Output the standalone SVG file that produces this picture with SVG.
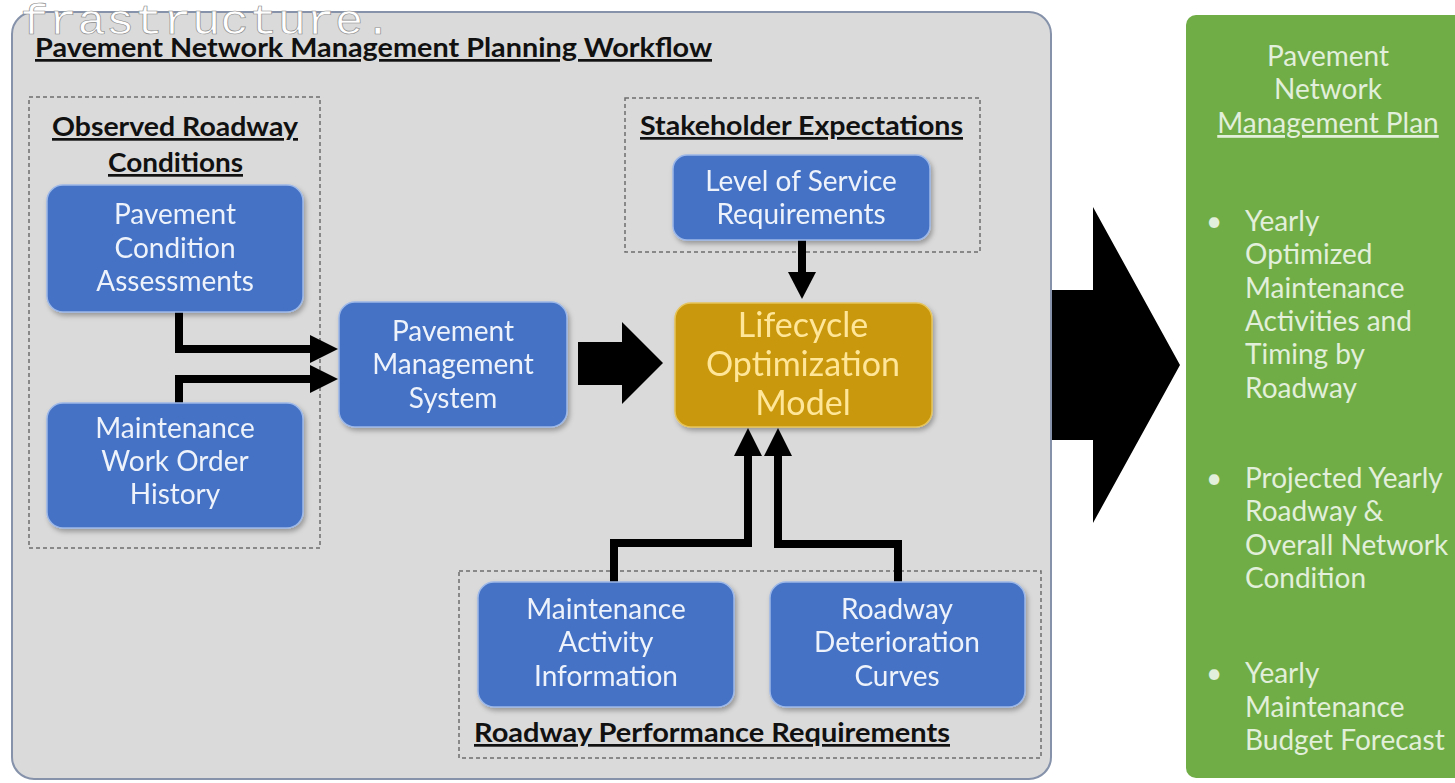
<svg xmlns="http://www.w3.org/2000/svg" width="1455" height="783" viewBox="0 0 1455 783">
<style>
  .node { fill: #4472c4; stroke: #9db8e8; stroke-width: 1.5; }
  .gold { fill: #c9980a; stroke: #e6c45a; stroke-width: 1.5; }
  .ntext { font-family: Lato, "Liberation Sans", sans-serif; font-size: 28px; fill: #eef3fb; text-anchor: middle; }
  .gtext { font-family: Lato, "Liberation Sans", sans-serif; font-size: 34px; fill: #ffe699; text-anchor: middle; }
  .sect { font-family: Lato, "Liberation Sans", sans-serif; font-size: 27px; font-weight: bold; fill: #111; text-decoration: underline; }
  .dash { fill: none; stroke: #6e6e6e; stroke-width: 1.5; stroke-dasharray: 4 3; }
  .conn { fill: none; stroke: #000; stroke-width: 8; }
  .head { fill: #000; }
  .green { font-family: Lato, "Liberation Sans", sans-serif; font-size: 28px; fill: #e2efda; }
</style>
<defs>
  <filter id="sh" x="-10%" y="-10%" width="125%" height="130%">
    <feDropShadow dx="2" dy="3" stdDeviation="2.5" flood-color="#000" flood-opacity="0.3"/>
  </filter>
</defs>
<rect width="1455" height="783" fill="#ffffff"/>

<g id="workflow-panel">
  <rect x="12" y="12" width="1039" height="767" rx="22" fill="#dadada" stroke="#8592aa" stroke-width="2"/>
  <text x="35" y="57" class="sect" textLength="677" lengthAdjust="spacingAndGlyphs">Pavement Network Management Planning Workflow</text>
</g>

<g id="group-observed">
  <rect x="29" y="97" width="291" height="451" class="dash"/>
  <text x="52" y="136" class="sect" textLength="246" lengthAdjust="spacingAndGlyphs">Observed Roadway</text>
  <text x="108" y="172" class="sect" textLength="135" lengthAdjust="spacingAndGlyphs">Conditions</text>
</g>
<g id="group-stakeholder">
  <rect x="625" y="98" width="355" height="154" class="dash"/>
  <text x="640" y="135" class="sect" textLength="323" lengthAdjust="spacingAndGlyphs">Stakeholder Expectations</text>
</g>
<g id="group-roadway">
  <rect x="459" y="571" width="582" height="187" class="dash"/>
  <text x="474" y="742" class="sect" textLength="476" lengthAdjust="spacingAndGlyphs">Roadway Performance Requirements</text>
</g>

<g id="connectors">
  <path class="conn" d="M179,312 V349 H314"/>
  <polygon class="head" points="310,335 338,349 310,363"/>
  <path class="conn" d="M179,403 V379 H314"/>
  <polygon class="head" points="310,365 338,379 310,393"/>
  <polygon class="head" points="578,342 622,342 622,322 663,363 622,404 622,385 578,385"/>
  <path class="conn" d="M802,240 V276"/>
  <polygon class="head" points="788,272 816,272 802,299"/>
  <path class="conn" d="M614,582 V543 H748 V452"/>
  <polygon class="head" points="734,456 762,456 748,428"/>
  <path class="conn" d="M898,582 V544 H778 V452"/>
  <polygon class="head" points="764,456 792,456 778,428"/>
  <polygon class="head" points="1052,290 1093,290 1093,207 1180,365 1093,523 1093,440 1052,440"/>
</g>

<g id="node-pca" filter="url(#sh)">
  <rect x="47" y="185" width="256" height="127" rx="16" class="node"/>
  <text x="175" y="224" class="ntext">Pavement</text>
  <text x="175" y="258" class="ntext">Condition</text>
  <text x="175" y="291" class="ntext">Assessments</text>
</g>
<g id="node-mwoh" filter="url(#sh)">
  <rect x="47" y="403" width="256" height="125" rx="16" class="node"/>
  <text x="175" y="438" class="ntext">Maintenance</text>
  <text x="175" y="471" class="ntext">Work Order</text>
  <text x="175" y="504" class="ntext">History</text>
</g>
<g id="node-pms" filter="url(#sh)">
  <rect x="339" y="302" width="228" height="125" rx="16" class="node"/>
  <text x="453" y="341" class="ntext">Pavement</text>
  <text x="453" y="374" class="ntext">Management</text>
  <text x="453" y="408" class="ntext">System</text>
</g>
<g id="node-los" filter="url(#sh)">
  <rect x="673" y="155" width="257" height="85" rx="14" class="node"/>
  <text x="801" y="191" class="ntext">Level of Service</text>
  <text x="801" y="224" class="ntext">Requirements</text>
</g>
<g id="node-lom" filter="url(#sh)">
  <rect x="675" y="303" width="257" height="124" rx="16" class="gold"/>
  <text x="803" y="337" class="gtext">Lifecycle</text>
  <text x="803" y="376" class="gtext">Optimization</text>
  <text x="803" y="415" class="gtext">Model</text>
</g>
<g id="node-mai" filter="url(#sh)">
  <rect x="478" y="582" width="256" height="125" rx="16" class="node"/>
  <text x="606" y="619" class="ntext">Maintenance</text>
  <text x="606" y="652" class="ntext">Activity</text>
  <text x="606" y="686" class="ntext">Information</text>
</g>
<g id="node-rdc" filter="url(#sh)">
  <rect x="770" y="582" width="255" height="125" rx="16" class="node"/>
  <text x="897" y="619" class="ntext">Roadway</text>
  <text x="897" y="652" class="ntext">Deterioration</text>
  <text x="897" y="686" class="ntext">Curves</text>
</g>

<g id="plan-panel">
  <rect x="1186" y="15" width="290" height="763" rx="10" fill="#70ad47"/>
  <text x="1328" y="66" class="green" text-anchor="middle">Pavement</text>
  <text x="1328" y="99" class="green" text-anchor="middle">Network</text>
  <text x="1328" y="133" class="green" text-anchor="middle" text-decoration="underline">Management Plan</text>
  <text x="1206" y="231" class="green">•</text>
  <text x="1245" y="231" class="green">Yearly</text>
  <text x="1245" y="264" class="green">Optimized</text>
  <text x="1245" y="298" class="green">Maintenance</text>
  <text x="1245" y="331" class="green">Activities and</text>
  <text x="1245" y="364" class="green">Timing by</text>
  <text x="1245" y="398" class="green">Roadway</text>
  <text x="1206" y="488" class="green">•</text>
  <text x="1245" y="488" class="green">Projected Yearly</text>
  <text x="1245" y="521" class="green">Roadway &amp;</text>
  <text x="1245" y="555" class="green">Overall Network</text>
  <text x="1245" y="588" class="green">Condition</text>
  <text x="1206" y="683" class="green">•</text>
  <text x="1245" y="683" class="green">Yearly</text>
  <text x="1245" y="717" class="green">Maintenance</text>
  <text x="1245" y="750" class="green">Budget Forecast</text>
</g>

<text x="20" y="34" font-family="'Liberation Mono', monospace" font-size="42" textLength="372" lengthAdjust="spacingAndGlyphs" fill="#ffffff" stroke="#8a8a8a" stroke-width="0.6">frastructure.</text>
</svg>
